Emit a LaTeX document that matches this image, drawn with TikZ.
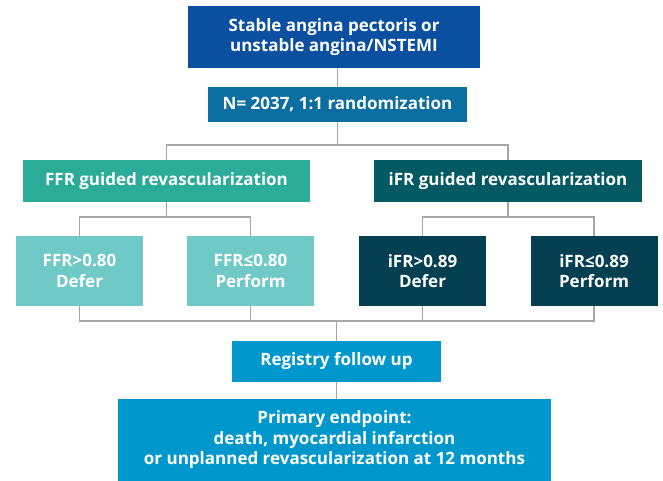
\documentclass[tikz,border=0pt]{standalone}
\usepackage{fontspec}
\setmainfont{Open Sans}
\definecolor{topblue}{RGB}{11,80,160}
\definecolor{randblue}{RGB}{10,110,160}
\definecolor{ffrgreen}{RGB}{42,172,153}
\definecolor{ffrlight}{RGB}{111,201,199}
\definecolor{ifrteal}{RGB}{4,90,98}
\definecolor{ifrdark}{RGB}{4,63,82}
\definecolor{regblue}{RGB}{0,152,204}
\definecolor{linkgray}{RGB}{166,166,166}

\tikzstyle{box}=[inner sep=0pt, align=center, text=white,
  font=\fontsize{17}{20.5}\selectfont\bfseries]
\tikzstyle{leaf}=[box, minimum width=127pt, minimum height=70pt]
\tikzstyle{link}=[draw=linkgray, line width=1.6pt]

\begin{document}
\begin{tikzpicture}[x=1pt, y=-1pt]
      \useasboundingbox (0,0) rectangle (663,481);
      \node[box, fill=topblue, minimum width=292pt, minimum height=62pt] (top) at (334,37)
        {Stable angina pectoris or\\unstable angina/NSTEMI};
      \node[box, fill=randblue, minimum width=259pt, minimum height=35pt] (rand) at (337.5,104.5)
        {N= 2037, 1:1 randomization};
      \node[box, fill=ffrgreen, minimum width=287pt, minimum height=42pt] (ffr) at (166.5,181)
        {FFR guided revascularization};
      \node[box, fill=ifrteal, minimum width=268pt, minimum height=42pt] (ifr) at (508,181)
        {iFR guided revascularization};
      \node[leaf, fill=ffrlight] (ffrhi) at (79.5,271) {FFR>0.80\\Defer};
      \node[leaf, fill=ffrlight] (ffrlo) at (250.5,271) {FFR≤0.80\\Perform};
      \node[leaf, fill=ifrdark] (ifrhi) at (422.5,271) {iFR>0.89\\Defer};
      \node[leaf, fill=ifrdark] (ifrlo) at (594,271) {iFR≤0.89\\Perform};
      \node[box, fill=regblue, minimum width=209pt, minimum height=41pt] (reg) at (336.5,361.5)
        {Registry follow up};
      \node[box, fill=regblue, minimum width=433pt, minimum height=82pt] (prim) at (334.5,440)
        {Primary endpoint:\\death, myocardial infarction\\or unplanned revascularization at 12 months};

      \draw[link] (rand.north) -- (rand.north |- top.south);
      \draw[link] (ffr.north) -- ++(0,-15) coordinate (topsplit) -| (ifr.north);
      \draw[link] (rand.south) -- (rand.south |- topsplit);
      \draw[link] (ffrhi.north) -- ++(0,-19) coordinate (ffrsplit) -| (ffrlo.north);
      \draw[link] (ffr.south) -- (ffr.south |- ffrsplit);
      \draw[link] (ifrhi.north) -- ++(0,-19) coordinate (ifrsplit) -| (ifrlo.north);
      \draw[link] (ifr.south) -- (ifr.south |- ifrsplit);
      \draw[link] (ffrhi.south) -- ++(0,15) coordinate (join) -| (ifrlo.south);
      \foreach \n in {ffrlo, ifrhi} {%
        \draw[link] (\n.south) -- (\n.south |- join);
      }
      \draw[link] (reg.north) -- (reg.north |- join);
      \draw[link] (reg.south) -- (reg.south |- prim.north);
    \end{tikzpicture}
\end{document}
